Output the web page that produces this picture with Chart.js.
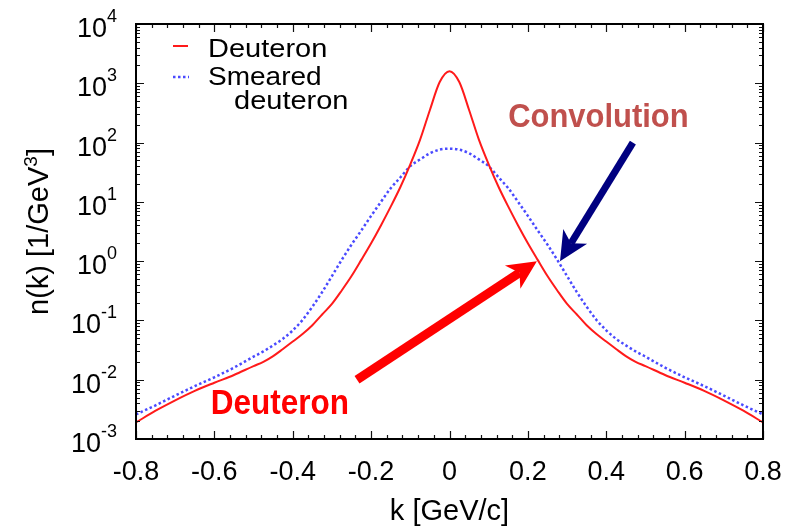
<!DOCTYPE html>
<html>
<head>
<meta charset="utf-8">
<script src="https://cdn.jsdelivr.net/npm/chart.js@4.4.1/dist/chart.umd.min.js"></script>
<style>
  html, body { margin: 0; padding: 0; background: #fff; }
  #wrap { width: 790px; height: 532px; }
</style>
</head>
<body>
<div id="wrap"><canvas id="myChart" width="790" height="532"></canvas></div>
<script>
// momentum k [GeV/c]
const kValues = [
  -0.8, -0.75, -0.7, -0.65, -0.6, -0.55, -0.5, -0.475, -0.45, -0.425, -0.4, -0.375, -0.35,
  -0.325, -0.3, -0.275, -0.25, -0.225, -0.2, -0.175, -0.15, -0.125, -0.1, -0.075, -0.05, -0.025,
  0,
  0.025, 0.05, 0.075, 0.1, 0.125, 0.15, 0.175, 0.2, 0.225, 0.25, 0.275, 0.3, 0.325,
  0.35, 0.375, 0.4, 0.425, 0.45, 0.475, 0.5, 0.55, 0.6, 0.65, 0.7, 0.75, 0.8
];

// n(k) [1/GeV^3]
const deuteron = [
  0.0019, 0.0030, 0.0045, 0.0065, 0.0089, 0.012, 0.017, 0.020, 0.025, 0.033, 0.044, 0.059, 0.083,
  0.126, 0.19, 0.32, 0.56, 1.05, 2.0, 4.0, 8.3, 18, 43, 112, 355, 1050,
  1600,
  1050, 355, 112, 43, 18, 8.3, 4.0, 2.0, 1.05, 0.56, 0.32, 0.19, 0.126,
  0.083, 0.059, 0.044, 0.033, 0.025, 0.020, 0.017, 0.012, 0.0089, 0.0065, 0.0045, 0.0030, 0.0019
];

const smeared = [
  0.0026, 0.0037, 0.0054, 0.0078, 0.011, 0.016, 0.0245, 0.030, 0.038, 0.049, 0.068, 0.102, 0.17,
  0.30, 0.56, 1.05, 1.9, 3.3, 5.8, 10, 17, 26, 40, 52, 66, 76,
  79,
  76, 66, 52, 40, 26, 17, 10, 5.8, 3.3, 1.9, 1.05, 0.56, 0.30,
  0.17, 0.102, 0.068, 0.049, 0.038, 0.030, 0.0245, 0.016, 0.011, 0.0078, 0.0054, 0.0037, 0.0026
];

const xTicks = [-0.8, -0.6, -0.4, -0.2, 0, 0.2, 0.4, 0.6, 0.8];
const xTickLabels = ["-0.8", "-0.6", "-0.4", "-0.2", "0", "0.2", "0.4", "0.6", "0.8"];
const xMinorStep = 0.04;
const yTicks = [1e-3, 1e-2, 1e-1, 1e0, 1e1, 1e2, 1e3, 1e4];
const yTickExponents = ["-3", "-2", "-1", "0", "1", "2", "3", "4"];

// arrows and labels placed in data coordinates (k, n)
const arrows = [
  { from: [0.468, 100], to: [0.282, 1.0], color: "#000080", width: 7, head: 29, half: 14 },
  { from: [-0.236, 0.01], to: [0.223, 1.0], color: "#ff0000", width: 9, head: 29, half: 14 }
];
const notes = [
  { text: "Convolution", at: [0.38, 182], color: "#c0504d", size: 34, sx: 0.91 },
  { text: "Deuteron", at: [-0.433, 0.0026], color: "#ff0000", size: 35, sx: 0.9 }
];

const RED = "#ff1a1a";
const BLUE = "#4a4aff";
const FONT = '"Liberation Sans", Arial, Helvetica, sans-serif';

function drawText(ctx, str, x, y, font, color, align, sx) {
  ctx.save();
  ctx.font = font;
  ctx.fillStyle = color;
  ctx.textBaseline = "alphabetic";
  ctx.textAlign = align || "left";
  ctx.translate(x, y);
  ctx.scale(sx || 1, 1);
  ctx.fillText(str, 0, 0);
  ctx.restore();
}

function drawArrow(ctx, x1, y1, x2, y2, a) {
  const ang = Math.atan2(y2 - y1, x2 - x1);
  const c = Math.cos(ang), s = Math.sin(ang);
  const bx = x2 - a.head * c, by = y2 - a.head * s;
  const nx = x2 - a.head * 0.72 * c, ny = y2 - a.head * 0.72 * s;
  ctx.save();
  ctx.strokeStyle = a.color;
  ctx.fillStyle = a.color;
  ctx.lineWidth = a.width;
  ctx.lineCap = "butt";
  ctx.beginPath();
  ctx.moveTo(x1, y1);
  ctx.lineTo(nx, ny);
  ctx.stroke();
  ctx.beginPath();
  ctx.moveTo(x2, y2);
  ctx.lineTo(bx - a.half * s, by + a.half * c);
  ctx.lineTo(nx, ny);
  ctx.lineTo(bx + a.half * s, by - a.half * c);
  ctx.closePath();
  ctx.fill();
  ctx.restore();
}

const framePlugin = {
  id: "frame",
  afterDatasetsDraw(chart) {
    const ctx = chart.ctx;
    const xs = chart.scales.x, ys = chart.scales.y;
    const { left, right, top, bottom } = chart.chartArea;

    ctx.save();
    ctx.strokeStyle = "#111";
    ctx.lineWidth = 1.2;
    // x ticks (major + minor), bottom and top, pointing inwards
    for (let v = -0.8; v <= 0.8001; v += xMinorStep) {
      const px = Math.round(xs.getPixelForValue(v)) + 0.5;
      const major = xTicks.some(t => Math.abs(t - v) < 1e-6);
      const len = major ? 8 : 4;
      ctx.beginPath();
      ctx.moveTo(px, bottom); ctx.lineTo(px, bottom - len);
      ctx.moveTo(px, top); ctx.lineTo(px, top + len);
      ctx.stroke();
    }
    // y ticks, decades + minor 2..9
    for (let d = -3; d <= 4; d++) {
      for (let m = 1; m <= 9; m++) {
        const v = m * Math.pow(10, d);
        if (v > 1e4) break;
        const py = Math.round(ys.getPixelForValue(v)) + 0.5;
        const len = m === 1 ? 8 : 4;
        ctx.beginPath();
        ctx.moveTo(left, py); ctx.lineTo(left + len, py);
        ctx.moveTo(right, py); ctx.lineTo(right - len, py);
        ctx.stroke();
      }
    }
    // frame
    ctx.strokeStyle = "#000";
    ctx.lineWidth = 2;
    ctx.strokeRect(left, top, right - left, bottom - top);
    ctx.restore();

    // x tick labels
    xTicks.forEach((t, i) => {
      drawText(ctx, xTickLabels[i], xs.getPixelForValue(t), 480, "27px " + FONT, "#000", "center");
    });
    // y tick labels 10^n
    yTicks.forEach((t, i) => {
      const py = ys.getPixelForValue(t);
      ctx.font = "18px " + FONT;
      const w = ctx.measureText(yTickExponents[i]).width;
      const xr = 117;
      drawText(ctx, yTickExponents[i], xr - w, py - 2, "18px " + FONT, "#000", "left");
      drawText(ctx, "10", xr - w, py + 13, "27px " + FONT, "#000", "right");
    });

    // axis titles
    drawText(ctx, "k [GeV/c]", (left + right) / 2, 520, "29px " + FONT, "#000", "center");
    ctx.save();
    ctx.translate(48, (top + bottom) / 2);
    ctx.rotate(-Math.PI / 2);
    ctx.font = "29px " + FONT;
    const p1 = "n(k) [1/GeV", p3 = "]";
    const w1 = ctx.measureText(p1).width, w3 = ctx.measureText(p3).width;
    ctx.font = "19px " + FONT;
    const w2 = ctx.measureText("3").width;
    let x0 = -(w1 + w2 + w3) / 2;
    drawText(ctx, p1, x0, 0, "29px " + FONT, "#000", "left");
    drawText(ctx, "3", x0 + w1, -11, "19px " + FONT, "#000", "left");
    drawText(ctx, p3, x0 + w1 + w2, 0, "29px " + FONT, "#000", "left");
    ctx.restore();

    // legend
    ctx.save();
    ctx.lineWidth = 2;
    ctx.strokeStyle = RED;
    ctx.beginPath(); ctx.moveTo(173, 46); ctx.lineTo(188, 46); ctx.stroke();
    ctx.strokeStyle = BLUE;
    ctx.lineWidth = 2.5;
    ctx.setLineDash([2.5, 2.5]);
    ctx.beginPath(); ctx.moveTo(173, 77); ctx.lineTo(189, 77); ctx.stroke();
    ctx.restore();
    drawText(ctx, "Deuteron", 208, 57, "25px " + FONT, "#000", "left", 1.16);
    drawText(ctx, "Smeared", 208, 85, "25px " + FONT, "#000", "left", 1.12);
    drawText(ctx, "deuteron", 234, 109, "25px " + FONT, "#000", "left", 1.16);

    // annotations
    arrows.forEach(a => {
      drawArrow(ctx,
        xs.getPixelForValue(a.from[0]), ys.getPixelForValue(a.from[1]),
        xs.getPixelForValue(a.to[0]), ys.getPixelForValue(a.to[1]), a);
    });
    notes.forEach(n => {
      drawText(ctx, n.text, xs.getPixelForValue(n.at[0]), ys.getPixelForValue(n.at[1]),
        "bold " + n.size + "px " + FONT, n.color, "center", n.sx);
    });
  }
};

const ctx = document.getElementById("myChart").getContext("2d");

new Chart(ctx, {
  type: "line",
  data: {
    datasets: [
      {
        label: "Deuteron",
        data: kValues.map((k, i) => ({ x: k, y: deuteron[i] })),
        borderColor: RED,
        borderWidth: 2,
        pointRadius: 0,
        fill: false,
        cubicInterpolationMode: "monotone"
      },
      {
        label: "Smeared deuteron",
        data: kValues.map((k, i) => ({ x: k, y: smeared[i] })),
        borderColor: BLUE,
        borderWidth: 2.5,
        borderDash: [2.5, 2.5],
        pointRadius: 0,
        fill: false,
        cubicInterpolationMode: "monotone"
      }
    ]
  },
  options: {
    responsive: false,
    animation: false,
    devicePixelRatio: 1,
    layout: { padding: { left: 136, right: 27, top: 24, bottom: 93 } },
    plugins: {
      legend: { display: false },
      tooltip: { enabled: false }
    },
    scales: {
      x: { type: "linear", min: -0.8, max: 0.8, display: false },
      y: { type: "logarithmic", min: 1e-3, max: 1e4, display: false }
    }
  },
  plugins: [framePlugin]
});
</script>
</body>
</html>
